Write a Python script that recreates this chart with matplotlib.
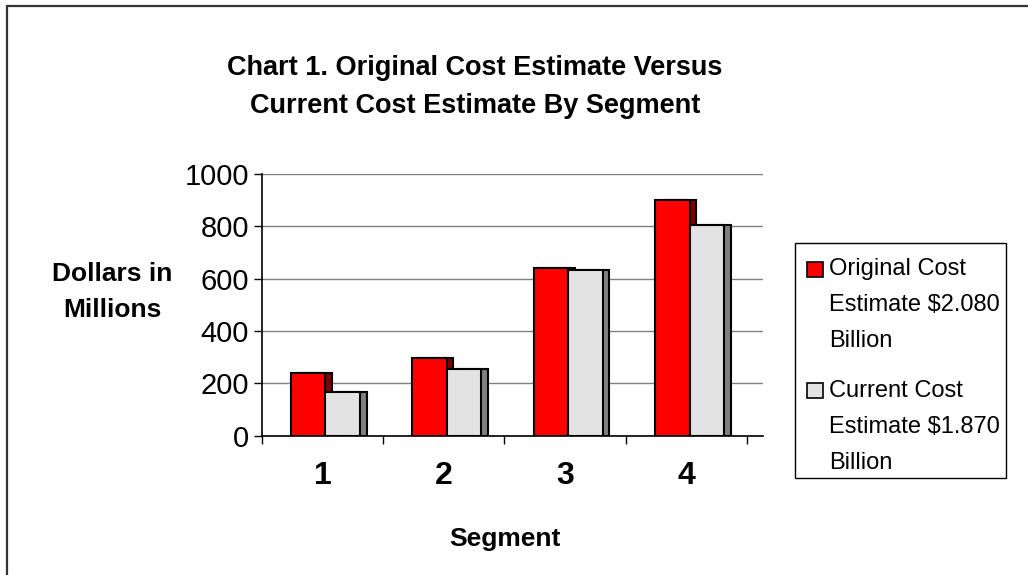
import matplotlib
matplotlib.use('Agg')
import matplotlib.pyplot as plt
from matplotlib.patches import Rectangle
import numpy as np

# ---- data ----
segments = ['1', '2', '3', '4']
original = [240, 296, 642, 900]
current = [168, 254, 634, 805]
yticks = [0, 200, 400, 600, 800, 1000]
series_names = ['Original Cost\nEstimate $2.080\nBillion',
                'Current Cost\nEstimate $1.870\nBillion']
title = 'Chart 1. Original Cost Estimate Versus\nCurrent Cost Estimate By Segment'
ylabel = 'Dollars in\nMillions'
xlabel = 'Segment'

front_colors = ['#ff0000', '#e3e3e3']
side_colors = ['#800000', '#808080']

plt.rcParams['font.family'] = ['Liberation Sans', 'DejaVu Sans']

W, H = 1028, 575
fig = plt.figure(figsize=(W / 100, H / 100), dpi=100)

def fx(px):
    return px / W

def fy(py):
    return 1 - py / H

# outer frame (only left and top visible)
fig.patches.append(Rectangle((fx(7), fy(H + 20)), fx(W + 40), fy(6) - fy(H + 20),
                             transform=fig.transFigure, fill=False,
                             edgecolor='#333333', lw=1.6))

ax = fig.add_axes([fx(261.7), fy(435.7), fx(763 - 261.7), (435.7 - 174) / H])
x = np.arange(len(segments))
bw = 0.285
depth = 0.055
left0 = x - 0.26
for i, vals in enumerate([original, current]):
    left = left0 + i * bw
    ax.bar(left + depth, vals, width=bw, align='edge', color=side_colors[i],
           edgecolor='black', lw=1.5, zorder=2 + 2 * i)
    ax.bar(left, vals, width=bw, align='edge', color=front_colors[i],
           edgecolor='black', lw=1.5, zorder=3 + 2 * i)

ax.set_ylim(0, 1000)
ax.set_xlim(-0.5, 3.63)
ax.set_yticks(yticks)
ax.set_yticklabels([str(v) for v in yticks], fontsize=21)
ax.yaxis.grid(True, color='#808080', lw=1.0, zorder=0)
ax.set_axisbelow(True)
ax.set_xticks(x)
ax.set_xticklabels(segments, fontsize=23, fontweight='bold')
ax.set_xticks(np.arange(-0.5, 4.0, 1.0), minor=True)
ax.tick_params(axis='x', which='major', length=0, pad=18)
ax.tick_params(axis='x', which='minor', length=6, width=1, direction='out')
ax.tick_params(axis='y', length=6, width=1, direction='out', pad=3)
for s in ['top', 'right']:
    ax.spines[s].set_visible(False)
for s in ['left', 'bottom']:
    ax.spines[s].set_linewidth(1.2)
    ax.spines[s].set_color('black')

# title and axis labels
fig.text(fx(475), fy(87), title, ha='center', va='center', fontsize=19.5,
         fontweight='bold', linespacing=1.58)
fig.text(fx(112), fy(292), ylabel, ha='center', va='center', fontsize=19,
         fontweight='bold', linespacing=1.62)
fig.text(fx(505), fy(539), xlabel, ha='center', va='center', fontsize=19,
         fontweight='bold')

# legend
fig.patches.append(Rectangle((fx(795), fy(478)), fx(1006 - 795), fy(242.7) - fy(478),
                             transform=fig.transFigure, fill=False,
                             edgecolor='black', lw=1.0))
entry_tops = [258, 380]
marker_tops = [262, 383]
for i, name in enumerate(series_names):
    fig.patches.append(Rectangle((fx(807), fy(marker_tops[i] + 15)), fx(16), 15 / H,
                                 transform=fig.transFigure, facecolor=front_colors[i],
                                 edgecolor='black', lw=1.2))
    fig.text(fx(829), fy(entry_tops[i]), name, ha='left', va='top', fontsize=17,
             linespacing=1.82)

fig.savefig('out.png', dpi=100)
